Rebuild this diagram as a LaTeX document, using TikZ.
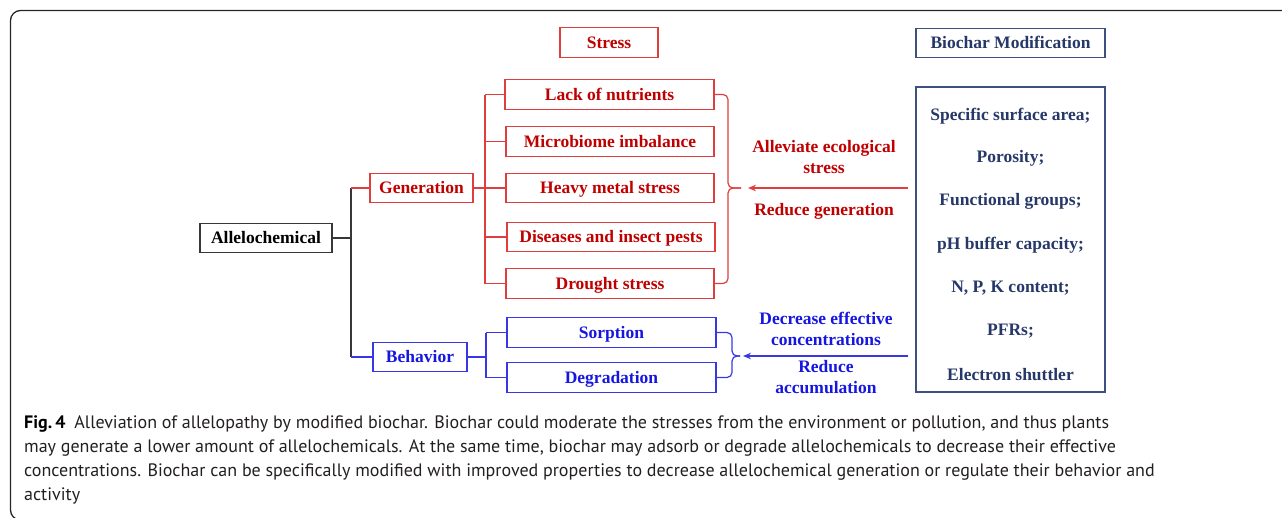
\documentclass[tikz,border=0pt]{standalone}
\usepackage{fontspec}
\setmainfont{Liberation Serif}
\newfontfamily\capfont{PT Sans}
\usetikzlibrary{arrows.meta}
\definecolor{txtred}{RGB}{192,0,0}
\definecolor{boxred}{RGB}{222,62,62}
\definecolor{navy}{RGB}{38,56,104}
\definecolor{boxnavy}{RGB}{62,80,128}
\definecolor{txtblue}{RGB}{22,22,225}
\definecolor{boxblue}{RGB}{55,55,232}
\definecolor{capgray}{RGB}{35,31,32}
\definecolor{linegray}{RGB}{55,55,55}
\begin{document}
\begin{tikzpicture}[x=1pt,y=-1pt,
  box/.style={draw, line width=1.2pt, inner sep=0pt, minimum height=29.5,
    font=\fontsize{17.5}{21}\selectfont\bfseries, text height=11.6, text depth=0},
  redbox/.style={box, draw=boxred, text=txtred},
  bluebox/.style={box, draw=boxblue, text=txtblue},
  navybox/.style={box, draw=boxnavy, text=navy},
  blackbox/.style={box, draw=linegray, text=black},
  lab/.style={inner sep=0pt, align=center, font=\fontsize{17.5}{21}\selectfont\bfseries},
  item/.style={lab, text=navy},
  redln/.style={draw=boxred, line width=1.2pt},
  blueln/.style={draw=boxblue, line width=1.2pt},
  grayln/.style={draw=linegray, line width=1.2pt},
  arr/.style={line width=1.3pt, -{Stealth[length=8pt,width=6.5pt]}}
]
\useasboundingbox (0,0) rectangle (1282,517);
\begin{scope}
\clip (0,0) rectangle (1282,517);
\draw[line width=1.3pt, draw=black!85, rounded corners=10pt] (1300,10.5) -- (10.5,10.5) -- (10.5,520) -- (1300,520);
\end{scope}

% headers
\node[redbox, minimum width=98] (stress) at (609,42.5) {Stress};
\node[navybox, minimum width=189] (bmod) at (1010.5,43) {Biochar Modification};

% left tree
\node[blackbox, minimum width=132] (allelo) at (266,238) {Allelochemical};
\node[redbox, minimum width=103] (gen) at (421.5,188) {Generation};
\node[bluebox, minimum width=94] (beh) at (420,357) {Behavior};

% stress boxes
\node[redbox, minimum width=209] (lack) at (609.5,94.5) {Lack of nutrients};
\node[redbox, minimum width=208] (micro) at (610,141.5) {Microbiome imbalance};
\node[redbox, minimum width=208] (heavy) at (610,188) {Heavy metal stress};
\node[redbox, minimum width=208] (dis) at (611,237) {Diseases and insect pests};
\node[redbox, minimum width=208] (drought) at (610,283.5) {Drought stress};

% behavior boxes
\node[bluebox, minimum width=209] (sorp) at (611.5,332.5) {Sorption};
\node[bluebox, minimum width=209] (degr) at (611.5,377.5) {Degradation};

% biochar property box
\node[draw=boxnavy, line width=1.2pt, minimum width=189, minimum height=305, inner sep=0pt] (big) at (1010.5,239.5) {};
\node[item] (p1) at (1010.5,116) {Specific surface area;};
\node[item] (p2) at (1010.5,158.5) {Porosity;};
\node[item] (p3) at (1010.5,201.5) {Functional groups;};
\node[item] (p4) at (1010.5,245) {pH buffer capacity;};
\node[item] (p5) at (1010.5,288) {N, P, K content;};
\node[item] (p6) at (1010.5,331) {PFRs;};
\node[item] (p7) at (1010.5,375) {Electron shuttler};

% arrow labels
\node[lab, text=txtred] (l1) at (824,157.5) {Alleviate ecological\\stress};
\node[lab, text=txtred] (l2) at (824,211) {Reduce generation};
\node[lab, text=txtblue] (l3) at (826,328.5) {Decrease effective\\concentrations};
\node[lab, text=txtblue] (l4) at (826,377.5) {Reduce\\accumulation};

% trunk
\coordinate (abus) at (351,0);
\draw[grayln] (allelo.east) -- (abus |- allelo.east);
\draw[grayln] (abus |- gen.west) -- (abus |- beh.west);
\draw[redln] (abus |- gen.west) -- (gen.west);
\draw[blueln] (abus |- beh.west) -- (beh.west);

% generation branches
\coordinate (gbus) at (485,0);
\draw[redln] (gen.east) -- (heavy.west);
\draw[redln] (gbus |- lack.west) -- (gbus |- drought.west);
\foreach \n in {lack,micro,dis,drought}
  \draw[redln] (gbus |- \n.west) -- (\n.west);

% behavior branches
\coordinate (bbus) at (486,0);
\draw[blueln] (beh.east) -- (bbus |- beh.east);
\draw[blueln] (bbus |- sorp.west) -- (bbus |- degr.west);
\draw[blueln] (bbus |- sorp.west) -- (sorp.west);
\draw[blueln] (bbus |- degr.west) -- (degr.west);

% red brace
\coordinate (rbx) at (728,0);
\coordinate (rtip) at (741,188);
\draw[redln, rounded corners=5pt] (lack.east) -- (rbx |- lack.east) -- (rbx |- rtip) -- (rtip);
\draw[redln, rounded corners=5pt] (drought.east) -- (rbx |- drought.east) -- (rbx |- rtip) -- (rtip);

% blue brace
\coordinate (bbx) at (732,0);
\coordinate (btip) at (740,356);
\draw[blueln, rounded corners=5pt] (sorp.east) -- (bbx |- sorp.east) -- (bbx |- btip) -- (btip);
\draw[blueln, rounded corners=5pt] (degr.east) -- (bbx |- degr.east) -- (bbx |- btip) -- (btip);

% arrows from biochar box
\coordinate (rarr) at (748,188);
\coordinate (barr) at (743,356);
\draw[arr, draw=boxred, fill=boxred, shorten <=7pt] (big.west |- rarr) -- (rarr);
\draw[arr, draw=boxblue, fill=boxblue, shorten <=7pt] (big.west |- barr) -- (barr);

% caption
\node[anchor=north west, align=left, inner sep=0pt, text=capgray,
  font=\capfont\fontsize{18}{24.2}\selectfont] (cap) at (24,415)
{{\bfseries\color{black}Fig.\,4}\hspace{9pt}Alleviation of allelopathy by modified biochar. Biochar could moderate the stresses from the environment or pollution, and thus plants\\
may generate a lower amount of allelochemicals. At the same time, biochar may adsorb or degrade allelochemicals to decrease their effective\\
concentrations. Biochar can be specifically modified with improved properties to decrease allelochemical generation or regulate their behavior and\\
activity};
\end{tikzpicture}
\end{document}
